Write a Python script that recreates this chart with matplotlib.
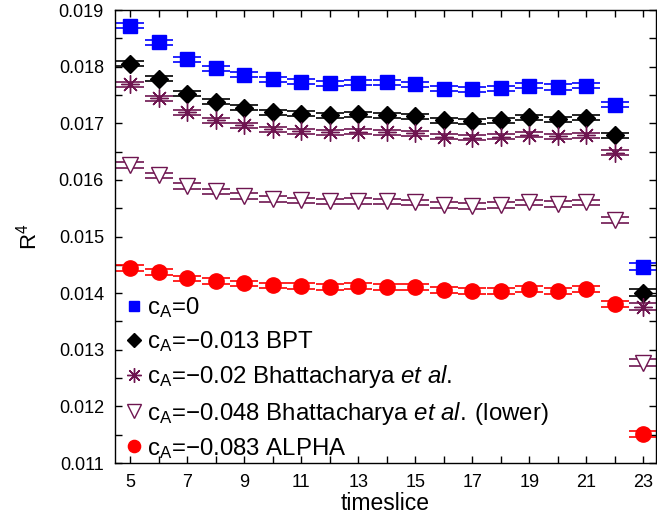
import matplotlib
matplotlib.use("Agg")
import matplotlib.pyplot as plt
from matplotlib.lines import Line2D
from matplotlib.ticker import MultipleLocator

plt.rcParams["font.family"] = ["Liberation Sans", "DejaVu Sans"]
plt.rcParams["mathtext.fontset"] = "custom"
plt.rcParams["mathtext.rm"] = "Liberation Sans"
plt.rcParams["mathtext.it"] = "Liberation Sans:italic"
plt.rcParams["mathtext.sf"] = "Liberation Sans"

# timeslices
t = list(range(5, 24))

# R^4 for each value of the improvement coefficient c_A
r4_cA0 = [0.018722, 0.018427, 0.018131, 0.017972, 0.017853, 0.017777, 0.017736,
          0.017706, 0.017718, 0.017720, 0.017690, 0.017612, 0.017600, 0.017620,
          0.017660, 0.017640, 0.017660, 0.017330, 0.014467]
r4_bpt = [0.018055, 0.017789, 0.017523, 0.017381, 0.017275, 0.017197, 0.017168,
          0.017144, 0.017156, 0.017144, 0.017126, 0.017055, 0.017032, 0.017055,
          0.017108, 0.017067, 0.017098, 0.016784, 0.014005]
r4_bhat = [0.017688, 0.017440, 0.017197, 0.017055, 0.016961, 0.016890, 0.016855,
           0.016842, 0.016849, 0.016842, 0.016819, 0.016760, 0.016743, 0.016760,
           0.016801, 0.016771, 0.016789, 0.016477, 0.013757]
r4_bhat_low = [0.016257, 0.016080, 0.015886, 0.015797, 0.015720, 0.015667, 0.015637,
               0.015620, 0.015631, 0.015619, 0.015601, 0.015560, 0.015543, 0.015560,
               0.015601, 0.015573, 0.015601, 0.015294, 0.012771]
r4_alpha = [0.014438, 0.014378, 0.014261, 0.014218, 0.014172, 0.014137, 0.014124,
            0.014112, 0.014124, 0.014112, 0.014112, 0.014053, 0.014041, 0.014035,
            0.014071, 0.014041, 0.014071, 0.013805, 0.011512]

# statistical errors
err_cA0 = [0.000045] * 18 + [0.00006]
err_bpt = [0.000045] * 18 + [0.00006]
err_bhat = [0.000045] * 18 + [0.00006]
err_bhat_low = [0.00005] * 18 + [0.00006]
err_alpha = [0.00005] * 18 + [0.00006]

labels = [
    r"c$_\mathregular{A}$=0",
    "c$_\\mathregular{A}$=\u22120.013 BPT",
    "c$_\\mathregular{A}$=\u22120.02 Bhattacharya $\\mathit{et\\ al.}$",
    "c$_\\mathregular{A}$=\u22120.048 Bhattacharya $\\mathit{et\\ al.}$\u2009(lower)",
    "c$_\\mathregular{A}$=\u22120.083 ALPHA",
]

purple = "#6e1550"
series = [
    (r4_cA0, err_cA0, dict(marker="s", color="#0000ff", ms=9.5, mfc="#0000ff")),
    (r4_bpt, err_bpt, dict(marker="D", color="black", ms=9, mfc="black")),
    (r4_bhat, err_bhat, dict(marker=(8, 2, 0), color=purple, ms=13, mfc=purple)),
    (r4_bhat_low, err_bhat_low, dict(marker="v", color=purple, ms=12, mfc="white")),
    (r4_alpha, err_alpha, dict(marker="o", color="#ff0000", ms=11, mfc="#ff0000")),
]

fig = plt.figure(figsize=(6.57, 5.19), dpi=100)
ax = fig.add_axes([115 / 657, 1 - 463 / 519, 541 / 657, 453 / 519])

handles = []
for (y, e, st), lab in zip(series, labels):
    ax.errorbar(t, y, yerr=e, fmt="none", ecolor=st["color"], elinewidth=1.0,
                capsize=10, capthick=1.2)
    ax.plot(t, y, linestyle="none", marker=st["marker"], color=st["color"],
            mfc=st["mfc"], mec=st["color"], ms=st["ms"], mew=1.0, zorder=3)
    if st["marker"] == (8, 2, 0):
        ax.plot(t, y, linestyle="none", marker="o", color=st["color"], ms=3, zorder=4)
    handles.append(Line2D([], [], linestyle="none", marker=st["marker"],
                          color=st["color"], mfc=st["mfc"], mec=st["color"],
                          ms=st["ms"] * 0.8, mew=1.0))

ax.set_xlim(4.47, 23.44)
ax.set_ylim(0.011, 0.019)
ax.xaxis.set_minor_locator(MultipleLocator(1))
ax.set_xticks(range(5, 24, 2))
ax.yaxis.set_major_locator(MultipleLocator(0.001))
ax.yaxis.set_minor_locator(MultipleLocator(0.0005))
ax.yaxis.set_major_formatter(matplotlib.ticker.FormatStrFormatter("%.3f"))
ax.tick_params(which="both", direction="in", top=True, right=True, labelsize=13,
               width=1.0, length=5)
ax.tick_params(axis="x", pad=8)
ax.tick_params(axis="y", pad=8)
for s in ax.spines.values():
    s.set_linewidth(1.0)

ax.set_xlabel("timeslice", fontsize=16.5, labelpad=1)
ax.set_ylabel("R$^4$", fontsize=16, labelpad=12)

leg = ax.legend(handles, labels, loc="lower left", frameon=False, fontsize=17.3,
                handlelength=0.6, handletextpad=0.25, labelspacing=0.38,
                borderaxespad=0.0, bbox_to_anchor=(0.004, -0.016))

fig.savefig("out.png", dpi=100)
